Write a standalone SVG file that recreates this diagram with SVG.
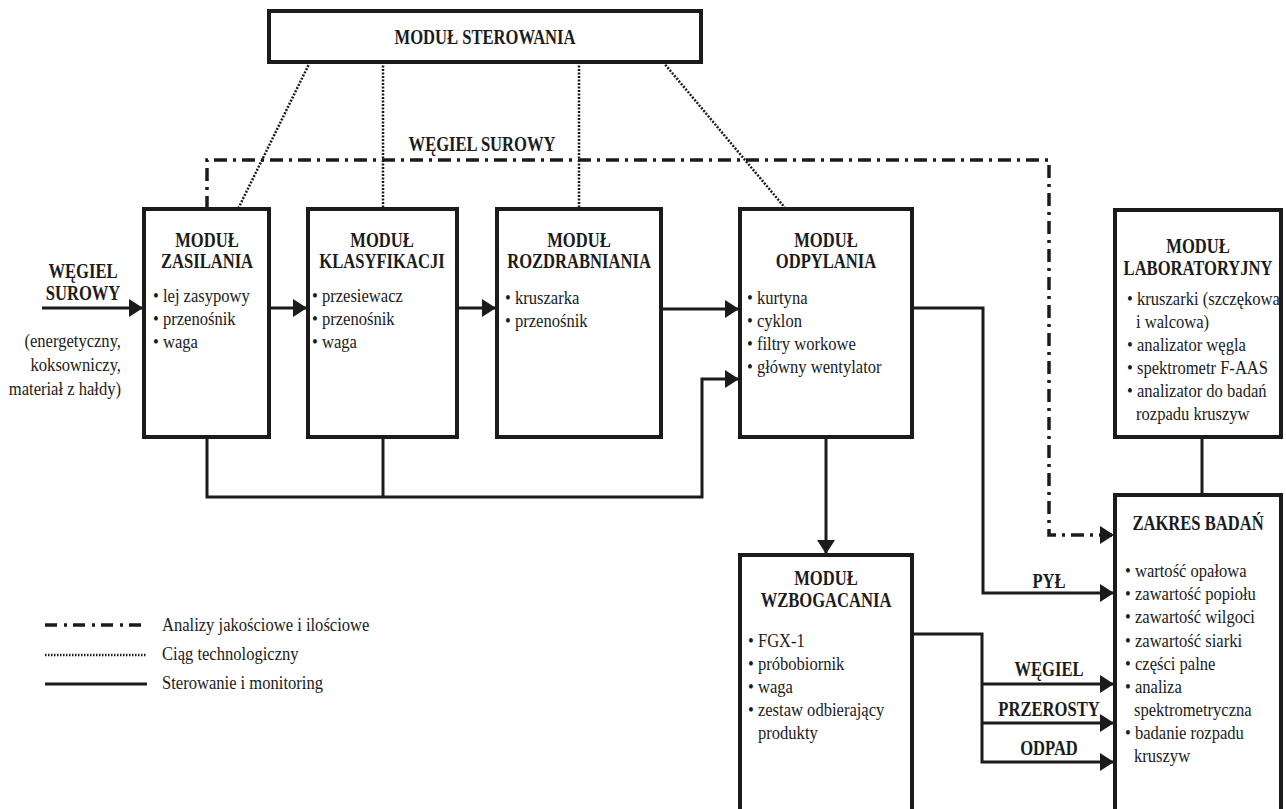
<svg xmlns="http://www.w3.org/2000/svg" width="1286" height="809" viewBox="0 0 1286 809">
<defs>
<style>
.box{fill:#fff;stroke:#1b1b1b;stroke-width:4}
.ln{fill:none;stroke:#1b1b1b;stroke-width:3}
.dot{fill:none;stroke:#1b1b1b;stroke-width:2.5;stroke-dasharray:2 1.5}
.dd{fill:none;stroke:#1b1b1b;stroke-width:3.5;stroke-dasharray:13 6 3 6}
.b{font-family:"Liberation Serif","Times New Roman",serif;font-weight:bold;font-size:21px;fill:#1b1b1b;text-anchor:middle;transform-box:fill-box;transform-origin:center;transform:scaleX(.79)}
.r{font-family:"Liberation Serif","Times New Roman",serif;font-size:19.5px;fill:#1b1b1b;transform-box:fill-box;transform-origin:left center;transform:scaleX(.85)}
.re{font-family:"Liberation Serif","Times New Roman",serif;font-size:19.5px;fill:#1b1b1b;text-anchor:end;transform-box:fill-box;transform-origin:right center;transform:scaleX(.85)}
</style>
<marker id="ah" markerUnits="userSpaceOnUse" markerWidth="15" markerHeight="18" refX="13" refY="9" orient="auto" viewBox="0 0 15 18"><path d="M0,0 L14,9 L0,18 z" fill="#1b1b1b"/></marker>
</defs>
<rect width="1286" height="809" fill="#fff"/>

<g id="connectors">
  <path class="dot" d="M310,62 L238,209"/>
  <path class="dot" d="M383,62 V209"/>
  <path class="dot" d="M579,62 V209"/>
  <path class="dot" d="M663,62 L786,209"/>
  <path class="dd" d="M207,209 V160 H1049 V535 H1113" marker-end="url(#ah)"/>
  <path class="ln" d="M42,308 H142" marker-end="url(#ah)"/>
  <path class="ln" d="M269,308 H306" marker-end="url(#ah)"/>
  <path class="ln" d="M457,308 H495" marker-end="url(#ah)"/>
  <path class="ln" d="M661,309 H738" marker-end="url(#ah)"/>
  <path class="ln" d="M207,437 V497 H702 V379 H738" marker-end="url(#ah)"/>
  <path class="ln" d="M383,437 V497"/>
  <path class="ln" d="M826,437 V553" marker-end="url(#ah)"/>
  <path class="ln" d="M912,308 H983 V593 H1113" marker-end="url(#ah)"/>
  <path class="ln" d="M912,634 H982 V762 H1113" marker-end="url(#ah)"/>
  <path class="ln" d="M982,684 H1113" marker-end="url(#ah)"/>
  <path class="ln" d="M982,723 H1113" marker-end="url(#ah)"/>
  <path class="ln" d="M1202,437 V495"/>
  <text class="b" x="482" y="151">WĘGIEL SUROWY</text>
  <text class="b" x="1049" y="588">PYŁ</text>
  <text class="b" x="1049" y="676">WĘGIEL</text>
  <text class="b" x="1049" y="716">PRZEROSTY</text>
  <text class="b" x="1049" y="755">ODPAD</text>
</g>

<g id="input">
  <text class="b" x="83" y="278">WĘGIEL</text>
  <text class="b" x="83" y="300">SUROWY</text>
  <text class="re" x="121" y="347">(energetyczny,</text>
  <text class="re" x="121" y="371">koksowniczy,</text>
  <text class="re" x="121" y="395">materiał z hałdy)</text>
</g>

<g id="modul-sterowania">
  <rect class="box" x="269" y="11" width="432" height="51"/>
  <text class="b" x="485" y="44">MODUŁ STEROWANIA</text>
</g>

<g id="modul-zasilania">
  <rect class="box" x="144" y="209" width="125" height="228"/>
  <text class="b" x="207" y="247">MODUŁ</text>
  <text class="b" x="207" y="268">ZASILANIA</text>
  <text class="r" x="153" y="302">• lej zasypowy</text>
  <text class="r" x="153" y="325">• przenośnik</text>
  <text class="r" x="153" y="348">• waga</text>
</g>

<g id="modul-klasyfikacji">
  <rect class="box" x="308" y="209" width="149" height="228"/>
  <text class="b" x="382" y="247">MODUŁ</text>
  <text class="b" x="382" y="268">KLASYFIKACJI</text>
  <text class="r" x="312" y="302">• przesiewacz</text>
  <text class="r" x="312" y="325">• przenośnik</text>
  <text class="r" x="312" y="348">• waga</text>
</g>

<g id="modul-rozdrabniania">
  <rect class="box" x="497" y="209" width="164" height="228"/>
  <text class="b" x="579" y="247">MODUŁ</text>
  <text class="b" x="579" y="268">ROZDRABNIANIA</text>
  <text class="r" x="505" y="304">• kruszarka</text>
  <text class="r" x="505" y="327">• przenośnik</text>
</g>

<g id="modul-odpylania">
  <rect class="box" x="740" y="209" width="172" height="228"/>
  <text class="b" x="826" y="247">MODUŁ</text>
  <text class="b" x="826" y="268">ODPYLANIA</text>
  <text class="r" x="747" y="304">• kurtyna</text>
  <text class="r" x="747" y="327">• cyklon</text>
  <text class="r" x="747" y="350">• filtry workowe</text>
  <text class="r" x="747" y="373">• główny wentylator</text>
</g>

<g id="modul-laboratoryjny">
  <rect class="box" x="1115" y="210" width="166" height="227"/>
  <text class="b" x="1198" y="253">MODUŁ</text>
  <text class="b" x="1198" y="275">LABORATORYJNY</text>
  <text class="r" x="1127" y="305">• kruszarki (szczękowa</text>
  <text class="r" x="1136" y="328">i walcowa)</text>
  <text class="r" x="1127" y="351">• analizator węgla</text>
  <text class="r" x="1127" y="374">• spektrometr F-AAS</text>
  <text class="r" x="1127" y="397">• analizator do badań</text>
  <text class="r" x="1136" y="420">rozpadu kruszyw</text>
</g>

<g id="modul-wzbogacania">
  <rect class="box" x="740" y="555" width="172" height="270"/>
  <text class="b" x="826" y="585">MODUŁ</text>
  <text class="b" x="826" y="607">WZBOGACANIA</text>
  <text class="r" x="748" y="647">• FGX-1</text>
  <text class="r" x="748" y="670">• próbobiornik</text>
  <text class="r" x="748" y="693">• waga</text>
  <text class="r" x="748" y="716">• zestaw odbierający</text>
  <text class="r" x="758" y="739">produkty</text>
</g>

<g id="zakres-badan">
  <rect class="box" x="1115" y="495" width="166" height="330"/>
  <text class="b" x="1198" y="530">ZAKRES BADAŃ</text>
  <text class="r" x="1125" y="577">• wartość opałowa</text>
  <text class="r" x="1125" y="600">• zawartość popiołu</text>
  <text class="r" x="1125" y="623">• zawartość wilgoci</text>
  <text class="r" x="1125" y="647">• zawartość siarki</text>
  <text class="r" x="1125" y="670">• części palne</text>
  <text class="r" x="1125" y="693">• analiza</text>
  <text class="r" x="1134" y="716">spektrometryczna</text>
  <text class="r" x="1125" y="739">• badanie rozpadu</text>
  <text class="r" x="1134" y="762">kruszyw</text>
</g>

<g id="legend">
  <path class="dd" d="M45,625 H143" style="stroke-dasharray:12 7 3 6"/>
  <path class="dot" d="M45,655 H147" style="stroke-dasharray:1.5 1.5"/>
  <path class="ln" d="M45,684 H147"/>
  <text class="r" x="162" y="631">Analizy jakościowe i ilościowe</text>
  <text class="r" x="162" y="660">Ciąg technologiczny</text>
  <text class="r" x="162" y="689">Sterowanie i monitoring</text>
</g>
</svg>
